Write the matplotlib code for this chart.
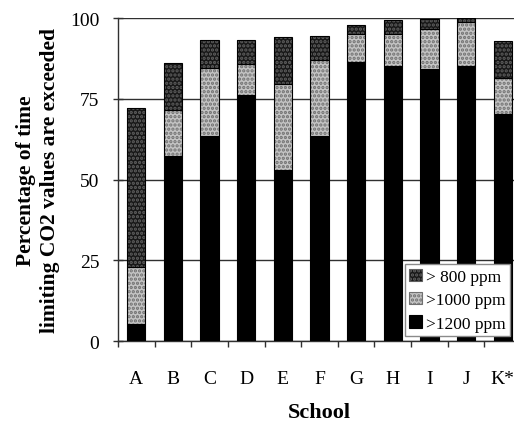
import numpy as np
import matplotlib.pyplot as plt
from matplotlib.patches import Patch

# schools and the share of time (%) each CO2 limit is exceeded
schools = ['A', 'B', 'C', 'D', 'E', 'F', 'G', 'H', 'I', 'J', 'K*']
over_1200 = [5.2, 57.3, 63.4, 76.2, 53.0, 63.4, 86.3, 85.2, 84.2, 85.2, 70.2]
over_1000 = [22.9, 71.5, 84.5, 85.7, 79.5, 87.0, 95.1, 95.1, 96.7, 98.8, 81.5]
over_800 = [72.1, 86.0, 93.3, 93.3, 94.2, 94.5, 97.8, 99.3, 99.7, 99.9, 92.9]
legend_labels = ['> 800 ppm', '>1000 ppm', '>1200 ppm']


def main():
    plt.rcParams['font.family'] = ['Liberation Serif', 'DejaVu Serif']
    plt.rcParams['hatch.linewidth'] = 1.6

    fig = plt.figure(figsize=(5.14, 4.27), dpi=100)
    ax = fig.add_axes([0.2296, 0.199, 0.784, 0.7565])

    x = np.arange(len(schools))
    w = 0.5
    s1200 = np.array(over_1200)
    s1000 = np.array(over_1000) - s1200
    s800 = np.array(over_800) - np.array(over_1000)

    dark = '#181818'
    light = '#c4c4c4'

    # solid part
    ax.bar(x, s1200, w, color='black', edgecolor='black', lw=0.8, zorder=3)
    # light dotted part
    ax.bar(x, s1000, w, bottom=s1200, color=light, edgecolor='none', zorder=3)
    ax.bar(x, s1000, w, bottom=s1200, color='none', edgecolor='#707070',
           hatch='....', lw=0, zorder=3)
    ax.bar(x, s1000, w, bottom=s1200, color='none', edgecolor='black',
           lw=0.8, zorder=4)
    # dark dotted part
    ax.bar(x, s800, w, bottom=s1200 + s1000, color=dark, edgecolor='none', zorder=3)
    ax.bar(x, s800, w, bottom=s1200 + s1000, color='none', edgecolor='#606060',
           hatch='....', lw=0, zorder=3)
    ax.bar(x, s800, w, bottom=s1200 + s1000, color='none', edgecolor='black',
           lw=0.8, zorder=4)

    ax.set_xlim(-0.5, len(schools) - 0.5)
    ax.set_ylim(0, 100)
    ax.set_yticks([0, 25, 50, 75, 100])
    ax.yaxis.grid(True, color='#303030', lw=1.0, zorder=0)
    ax.set_axisbelow(True)

    # ticks between categories, labels at the centres
    ax.set_xticks(np.arange(-0.5, len(schools), 1.0))
    ax.set_xticklabels([])
    ax.set_xticks(x, minor=True)
    ax.set_xticklabels(schools, minor=True)
    ax.tick_params(axis='x', which='major', direction='out', length=4.5,
                   width=1, color='#303030')
    ax.tick_params(axis='x', which='minor', length=0, pad=21, labelsize=14)
    ax.tick_params(axis='y', direction='inout', length=7, width=1,
                   color='#303030', pad=10, labelsize=14)

    for side in ['top', 'right']:
        ax.spines[side].set_visible(False)
    for side in ['left', 'bottom']:
        ax.spines[side].set_color('#303030')
        ax.spines[side].set_linewidth(1.0)

    ax.set_xlabel('School', fontsize=16, fontweight='bold', labelpad=11)
    ax.set_ylabel('Percentage of time\nlimiting CO2 values are exceeded',
                  fontsize=15.5, fontweight='bold', labelpad=7, linespacing=1.3)

    handles = [
        Patch(facecolor=dark, edgecolor='#606060', hatch='....', lw=0.8),
        Patch(facecolor=light, edgecolor='#707070', hatch='....', lw=0.8),
        Patch(facecolor='black', edgecolor='black', lw=0.8),
    ]
    leg = ax.legend(handles, legend_labels, loc='lower right',
                    bbox_to_anchor=(0.992, 0.211), bbox_transform=fig.transFigure,
                    borderaxespad=0, fontsize=12.5, fancybox=False, framealpha=1,
                    edgecolor='#8a8a8a', handlelength=0.7, handleheight=0.7,
                    handletextpad=0.25, labelspacing=0.42, borderpad=0.25)
    leg.get_frame().set_linewidth(1.0)
    leg.set_zorder(10)

    fig.savefig('out.png', dpi=100)


if __name__ == '__main__':
    main()
